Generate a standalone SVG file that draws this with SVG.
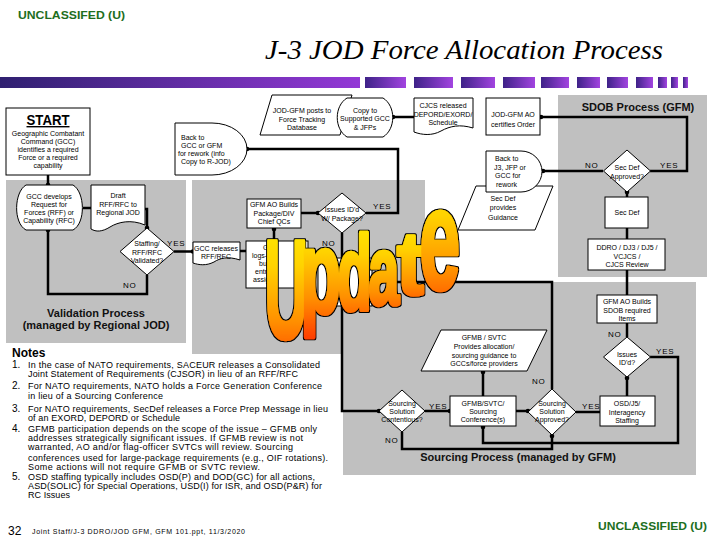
<svg xmlns="http://www.w3.org/2000/svg" width="720" height="540" viewBox="0 0 720 540">
<defs>
<style>
.n{fill:#fff;stroke:#000;stroke-width:1}
.t{font-family:"Liberation Sans",Arial,sans-serif;font-size:7px;fill:#000;text-anchor:middle}
.s{text-anchor:start}
.yn{font-family:"Liberation Sans",Arial,sans-serif;font-size:8px;fill:#000;letter-spacing:0.8px}
.c{fill:none;stroke:#000;stroke-width:2.5}
.d{marker-end:url(#dot)}
.g{fill:#c0c0c0}
.h{font-family:"Liberation Sans",Arial,sans-serif;font-weight:bold;font-size:11px;fill:#111;text-anchor:middle}
.nt{font-family:"Liberation Sans",Arial,sans-serif;font-size:9px;fill:#000}
.num{font-size:10px}
.u{font-family:"Liberation Sans",Arial,sans-serif;font-weight:bold;font-size:100px;fill:url(#ug);stroke:url(#ug);stroke-width:3.5;stroke-linejoin:round;vector-effect:non-scaling-stroke}
.cls{font-family:"Liberation Sans",Arial,sans-serif;font-weight:bold;font-size:11px;fill:#1d6e1d}
.blk{fill:url(#blk)}
</style>
<marker id="dot" viewBox="-3 -3 6 6" markerWidth="6" markerHeight="6" markerUnits="userSpaceOnUse"><circle r="2.3" fill="#000"/></marker>
<linearGradient id="bar" x1="0" x2="1" y1="0" y2="0"><stop offset="0" stop-color="#2f2070"/><stop offset="1" stop-color="#9338d6"/></linearGradient>
<linearGradient id="blk" x1="0" x2="1" y1="0" y2="0"><stop offset="0" stop-color="#3e2288"/><stop offset="1" stop-color="#a244e0"/></linearGradient>
<linearGradient id="ug" x1="0" y1="0" x2="0" y2="1"><stop offset="0" stop-color="#fff000"/><stop offset="0.35" stop-color="#ffd200"/><stop offset="0.7" stop-color="#ff9000"/><stop offset="1" stop-color="#ff4000"/></linearGradient>
<filter id="ol" x="-10%" y="-10%" width="120%" height="120%">
<feMorphology in="SourceAlpha" operator="dilate" radius="1.2" result="dl"/>
<feFlood flood-color="#000"/>
<feComposite in2="dl" operator="in" result="o"/>
<feMerge><feMergeNode in="o"/><feMergeNode in="SourceGraphic"/></feMerge>
</filter>
</defs>

<rect width="720" height="540" fill="#fff"/>

<!-- header -->
<text class="cls" x="18" y="19" textLength="107" lengthAdjust="spacingAndGlyphs">UNCLASSIFED (U)</text>
<text x="265" y="59" font-family="'Liberation Serif','Times New Roman',serif" font-style="italic" font-size="28" textLength="398" lengthAdjust="spacingAndGlyphs">J-3 JOD Force Allocation Process</text>
<rect x="0" y="77" width="360" height="11" fill="url(#bar)"/>
<rect class="blk" x="365" y="77" width="41" height="11"/>
<rect class="blk" x="414" y="77" width="39" height="11"/>
<rect class="blk" x="461" y="77" width="34" height="11"/>
<rect class="blk" x="503" y="77" width="32" height="11"/>
<rect class="blk" x="541" y="77" width="28" height="11"/>
<rect class="blk" x="577" y="77" width="23" height="11"/>
<rect class="blk" x="607" y="77" width="21" height="11"/>
<rect class="blk" x="636" y="77" width="17" height="11"/>
<rect class="blk" x="658" y="77" width="9" height="11"/>
<rect class="blk" x="671" y="77" width="7" height="11"/>
<rect class="blk" x="683" y="77" width="5" height="11"/>

<!-- regions -->
<g id="regions">
<rect class="g" x="6" y="180" width="180" height="163"/>
<rect class="g" x="192" y="180" width="233" height="174"/>
<rect class="g" x="343" y="282" width="353" height="193"/>
<rect class="g" x="558" y="95" width="149" height="182"/>
<text class="h" x="96" y="317">Validation Process</text>
<text class="h" x="96" y="329">(managed by Regional JOD)</text>
<text class="h" x="638" y="111">SDOB Process (GFM)</text>
<text class="h" x="518" y="461">Sourcing Process (managed by GFM)</text>
</g>

<!-- connectors -->
<g id="connectors">
<path class="c d" d="M48,175 V185"/>
<path class="c" d="M83,208 H91"/>
<path class="c d" d="M145,209 H147 V228"/>
<path class="c d" d="M147,275 V294 H48 V230"/>
<path class="c d" d="M174,251.5 H193"/>
<path class="c" d="M240,251 H246"/>
<path class="c d" d="M274,241 V229"/>
<path class="c d" d="M301,213 H318"/>
<path class="c d" d="M366,213 H398 V149 H247"/>
<path class="c" d="M342,233 V258"/>
<path class="c d" d="M342,306 V411 H379"/>
<path class="c" d="M552,389 V282 H372"/>
<path class="c d" d="M414,117 H393"/>
<path class="c d" d="M650,171 H687 V117 H541"/>
<path class="c d" d="M603,171 H543"/>
<path class="c d" d="M627,197 V192"/>
<path class="c" d="M627,239 V228"/>
<path class="c" d="M627,295 V270"/>
<path class="c" d="M627,337 V323"/>
<path class="c d" d="M627,396 V378"/>
<path class="c d" d="M650,357 H678 V443 H483 V427"/>
<path class="c" d="M576,412 H600"/>
<path class="c d" d="M516,411 H528"/>
<path class="c d" d="M425,411 H450"/>
<path class="c d" d="M483,396 V372"/>
<path class="c d" d="M402,432 V449 H552 V436"/>
<text class="yn" x="167" y="246">YES</text>
<text class="yn" x="123" y="288">NO</text>
<text class="yn" x="373" y="209">YES</text>
<text class="yn" x="322" y="246">NO</text>
<text class="yn" x="585" y="168">NO</text>
<text class="yn" x="660" y="168">YES</text>
<text class="yn" x="608" y="337">NO</text>
<text class="yn" x="656" y="354">YES</text>
<text class="yn" x="532" y="384">NO</text>
<text class="yn" x="582" y="409">YES</text>
<text class="yn" x="429" y="409">YES</text>
<text class="yn" x="385" y="443">NO</text>
</g>

<!-- nodes -->
<g id="start">
<rect class="n" x="6" y="108" width="84" height="67"/>
<text x="48" y="125" font-family="'Liberation Sans',Arial,sans-serif" font-weight="bold" font-size="14" text-anchor="middle" text-decoration="underline" textLength="43" lengthAdjust="spacingAndGlyphs">START</text>
<text class="t" x="48" y="136">Geographic Combatant</text>
<text class="t" x="48" y="144">Command (GCC)</text>
<text class="t" x="48" y="152">identifies a required</text>
<text class="t" x="48" y="160">Force or a required</text>
<text class="t" x="48" y="168">capability</text>
</g>

<g id="gcc-develops">
<path class="n" d="M26,185 H73 C85,192 86,223 73,230 H26 C13,223 14,192 26,185 Z"/>
<text class="t" x="49" y="199">GCC develops</text>
<text class="t" x="49" y="207">Request for</text>
<text class="t" x="49" y="215">Forces (RFF) or</text>
<text class="t" x="49" y="223">Capability (RFC)</text>
</g>

<g id="draft">
<path class="n" d="M91,185 H145 V225 C131,219 118,222 110,227 C102,232 96,232 91,229 Z"/>
<text class="t" x="118" y="198">Draft</text>
<text class="t" x="118" y="207">RFF/RFC to</text>
<text class="t" x="118" y="215">Regional JOD</text>
</g>

<g id="staffing-validated">
<path class="n" d="M147,228 L174,251.5 L147,275 L120,251.5 Z"/>
<text class="t" x="147" y="245.5">Staffing/</text>
<text class="t" x="147" y="254.5">RFF/RFC</text>
<text class="t" x="147" y="262.5">Validated?</text>
</g>

<g id="gcc-releases">
<path class="n" d="M193,242 H240 V260 C228,256 220,258 214,262 C206,266 199,265 193,263 Z"/>
<text class="t" x="216" y="250.5">GCC releases</text>
<text class="t" x="216" y="258.5">RFF/RFC</text>
</g>

<g id="gfm-logs-in">
<rect class="n" x="246" y="241" width="62" height="47"/>
<text class="t s" x="263" y="250">G</text>
<text class="t s" x="252" y="258">logs-in</text>
<text class="t s" x="259" y="266">build</text>
<text class="t s" x="255" y="274">entry</text>
<text class="t s" x="253" y="282">assig</text>
</g>

<g id="hidden-box">
<rect class="n" x="318" y="258" width="54" height="48"/>
</g>

<g id="gfm-ao-package">
<rect class="n" x="247" y="199" width="54" height="29"/>
<text class="t" x="274" y="207">GFM AO Builds</text>
<text class="t" x="274" y="215.5">Package/DIV</text>
<text class="t" x="274" y="224">Chief QCs</text>
</g>

<g id="issues-package">
<path class="n" d="M342,193 L366,213 L342,233 L318,213 Z"/>
<text class="t" x="342" y="212">Issues ID'd</text>
<text class="t" x="342" y="220.5">W/ Package?</text>
</g>

<g id="back-to-gcc">
<path class="n" d="M175,123 H212 A35,26 0 0 1 212,175 H175 Z"/>
<text class="t s" x="181" y="140">Back to</text>
<text class="t s" x="181" y="148">GCC or GFM</text>
<text class="t s" x="178" y="156">for rework (info</text>
<text class="t s" x="181" y="164">Copy to R-JOD)</text>
</g>

<g id="jod-posts">
<path class="n" d="M272,95 H352 L340,135 H260 Z"/>
<text class="t" x="302" y="113">JOD-GFM posts to</text>
<text class="t" x="302" y="121.5">Force Tracking</text>
<text class="t" x="302" y="130">Database</text>
</g>

<g id="copy-to">
<path class="n" d="M347,98 H383 C396,106 396,129 383,137 H347 C334,129 334,106 347,98 Z"/>
<text class="t" x="365" y="112.5">Copy to</text>
<text class="t" x="365" y="121">Supported GCC</text>
<text class="t" x="365" y="129.5">&amp; JFPs</text>
</g>

<g id="cjcs-released">
<path class="n" d="M414,98 H473 V128 C460,124 450,126 441,131 C432,136 422,135 414,132 Z"/>
<text class="t" x="443" y="107.5">CJCS released</text>
<text class="t" x="443" y="116.5">DEPORD/EXORD/</text>
<text class="t" x="443" y="124.5">Schedule</text>
</g>

<g id="jod-certifies">
<rect class="n" x="486" y="98" width="54" height="37"/>
<text class="t" x="513" y="116.5">JOD-GFM AO</text>
<text class="t" x="513" y="127">certifies Order</text>
</g>

<g id="secdef-guidance">
<path class="n" d="M476,186 H553 L535,230 H458 Z"/>
<text class="t" x="503" y="200.5">Sec Def</text>
<text class="t" x="503" y="210">provides</text>
<text class="t" x="503" y="219.5">Guidance</text>
</g>

<g id="back-to-j3">
<path class="n" d="M486,151 H521 A21,20.5 0 0 1 521,192 H486 Z"/>
<text class="t s" x="495" y="160.5">Back to</text>
<text class="t s" x="494" y="169.5">J3, JFP or</text>
<text class="t s" x="495" y="177.5">GCC for</text>
<text class="t s" x="496" y="186.5">rework</text>
</g>

<g id="secdef-approved">
<path class="n" d="M627,150 L650.5,171 L627,192 L603.5,171 Z"/>
<text class="t" x="627" y="169.5">Sec Def</text>
<text class="t" x="627" y="178.5">Approved?</text>
</g>

<g id="secdef">
<rect class="n" x="605" y="197" width="43" height="31"/>
<text class="t" x="627" y="214.5">Sec Def</text>
</g>

<g id="ddro-review">
<rect class="n" x="588" y="239" width="77" height="31"/>
<text class="t" x="627" y="249.5">DDRO / DJ3 / DJ5 /</text>
<text class="t" x="627" y="258.5">VCJCS /</text>
<text class="t" x="627" y="266.5">CJCS Review</text>
</g>

<g id="gfm-ao-sdob">
<rect class="n" x="597" y="295" width="60" height="28"/>
<text class="t" x="627" y="303.5">GFM AO Builds</text>
<text class="t" x="627" y="312.5">SDOB required</text>
<text class="t" x="627" y="320.5">Items</text>
</g>

<g id="issues-idd">
<path class="n" d="M627,337 L650.5,357 L627,377 L603.5,357 Z"/>
<text class="t" x="627" y="356.5">Issues</text>
<text class="t" x="627" y="364.5">ID'd?</text>
</g>

<g id="osd-staffing">
<rect class="n" x="600" y="396" width="55" height="30"/>
<text class="t" x="627" y="405.5">OSD/J5/</text>
<text class="t" x="627" y="414.5">Interagency</text>
<text class="t" x="627" y="422.5">Staffing</text>
</g>

<g id="sourcing-approved">
<path class="n" d="M552,389 L576,412 L552,435 L528,412 Z"/>
<text class="t" x="552" y="405.5">Sourcing</text>
<text class="t" x="552" y="413.5">Solution</text>
<text class="t" x="552" y="421.5">Approved?</text>
</g>

<g id="gfmb-conference">
<rect class="n" x="450" y="396" width="66" height="30"/>
<text class="t" x="483" y="405.5">GFMB/SVTC/</text>
<text class="t" x="483" y="413.5">Sourcing</text>
<text class="t" x="483" y="421.5">Conference(s)</text>
</g>

<g id="sourcing-contentious">
<path class="n" d="M402,390 L425,411 L402,432 L379,411 Z"/>
<text class="t" x="402" y="405.5">Sourcing</text>
<text class="t" x="402" y="413.5">Solution</text>
<text class="t" x="402" y="421.5">Contentious?</text>
</g>

<g id="gfmb-guidance">
<path class="n" d="M441,330 H547 L527,371 H421 Z"/>
<text class="t" x="484" y="339.5">GFMB / SVTC</text>
<text class="t" x="484" y="348.5">Provides allocation/</text>
<text class="t" x="484" y="357.5">sourcing guidance to</text>
<text class="t" x="484" y="366">GCCs/force providers</text>
</g>

<!-- notes -->
<g id="notes">
<text x="12" y="357" font-family="'Liberation Sans',Arial,sans-serif" font-weight="bold" font-size="12">Notes</text>
<text class="nt num" x="12" y="368">1.</text>
<text class="nt" x="28" y="368" textLength="292" lengthAdjust="spacing">In the case of NATO requirements, SACEUR releases a Consolidated</text>
<text class="nt" x="28" y="377" textLength="270" lengthAdjust="spacing">Joint Statement of Requirements (CJSOR) in lieu of an RFF/RFC</text>
<text class="nt num" x="12" y="389">2.</text>
<text class="nt" x="28" y="389" textLength="294" lengthAdjust="spacing">For NATO requirements, NATO holds a Force Generation Conference</text>
<text class="nt" x="28" y="399" textLength="135" lengthAdjust="spacing">in lieu of a Sourcing Conference</text>
<text class="nt num" x="12" y="412">3.</text>
<text class="nt" x="28" y="412" textLength="300" lengthAdjust="spacing">For NATO requirements, SecDef releases a Force Prep Message in lieu</text>
<text class="nt" x="28" y="421" textLength="152" lengthAdjust="spacing">of an EXORD, DEPORD or Schedule</text>
<text class="nt num" x="12" y="432">4.</text>
<text class="nt" x="28" y="432" textLength="289" lengthAdjust="spacing">GFMB participation depends on the scope of the issue – GFMB only</text>
<text class="nt" x="28" y="441" textLength="275" lengthAdjust="spacing">addresses strategically significant issues.  If GFMB review is not</text>
<text class="nt" x="28" y="450" textLength="265" lengthAdjust="spacing">warranted, AO and/or flag-officer SVTCs will review.  Sourcing</text>
<text class="nt" x="28" y="461" textLength="300" lengthAdjust="spacing">conferences used for large-package requirements (e.g., OIF rotations).</text>
<text class="nt" x="28" y="470" textLength="232" lengthAdjust="spacing">Some actions will not require GFMB or SVTC review.</text>
<text class="nt num" x="12" y="480">5.</text>
<text class="nt" x="28" y="480" textLength="287" lengthAdjust="spacing">OSD staffing typically includes OSD(P) and DOD(GC) for all actions,</text>
<text class="nt" x="28" y="489" textLength="294" lengthAdjust="spacing">ASD(SOLIC) for Special Operations, USD(I) for ISR, and OSD(P&amp;R) for</text>
<text class="nt" x="28" y="498" textLength="42" lengthAdjust="spacing">RC Issues</text>
</g>

<!-- footer -->
<text x="8" y="535" font-family="'Liberation Sans',Arial,sans-serif" font-size="12">32</text>
<text x="32" y="534" font-family="'Liberation Sans',Arial,sans-serif" font-size="7" textLength="213" lengthAdjust="spacing">Joint Staff/J-3 DDRO/JOD GFM, GFM 101.ppt, 11/3/2020</text>
<text class="cls" x="598" y="530" textLength="109" lengthAdjust="spacingAndGlyphs">UNCLASSIFIED (U)</text>

<!-- Update overlay -->
<g id="update-overlay" filter="url(#ol)">
<text class="u" transform="translate(264.5,338) scale(0.60,1.39)">U</text>
<text class="u" transform="translate(300.5,312.5) scale(0.66,1.17)">p</text>
<text class="u" transform="translate(337.5,310) scale(0.56,1.06)">d</text>
<text class="u" transform="translate(368.5,304) scale(0.55,0.96)">a</text>
<text class="u" transform="translate(397,294) scale(0.80,0.88)">t</text>
<text class="u" transform="translate(419.5,288.5) scale(0.73,1.42)">e</text>
</g>
</svg>
